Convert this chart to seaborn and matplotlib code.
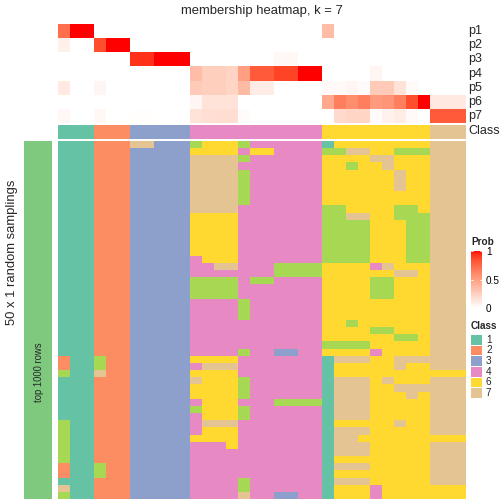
import numpy as np
import pandas as pd
import matplotlib
matplotlib.use("Agg")
import matplotlib.pyplot as plt
import seaborn as sns
from matplotlib.colors import ListedColormap
from matplotlib.patches import Rectangle
from matplotlib.lines import Line2D

sns.set_theme(style="white")
plt.rcParams['font.family'] = ['Liberation Sans', 'DejaVu Sans']

# ---------------- data ----------------
prob_labels = ["p1", "p2", "p3", "p4", "p5", "p6", "p7"]
p1 = [0.72, 1, 1, 0, 0, 0, 0, 0, 0, 0, 0, 0, 0, 0, 0, 0, 0, 0, 0, 0, 0, 0,
      0.35, 0, 0, 0, 0, 0, 0, 0, 0, 0, 0, 0]
p2 = [0.08, 0, 0, 0.85, 1, 1, 0, 0, 0, 0, 0, 0, 0, 0, 0, 0, 0, 0, 0, 0, 0, 0,
      0, 0, 0, 0, 0, 0, 0, 0, 0, 0, 0, 0]
p3 = [0, 0, 0, 0, 0, 0, 0.93, 0.93, 1, 1, 1, 0, 0, 0, 0, 0, 0, 0, 0.04, 0.04, 0, 0,
      0, 0, 0, 0, 0, 0, 0, 0, 0, 0, 0, 0]
p4 = [0, 0, 0, 0, 0, 0, 0, 0, 0, 0, 0, 0.35, 0.25, 0.25, 0.23, 0.5, 0.8, 0.8, 0.88, 0.88, 1, 1,
      0, 0, 0, 0, 0.05, 0, 0, 0, 0, 0, 0, 0]
p5 = [0.12, 0, 0, 0.05, 0, 0, 0, 0, 0, 0, 0, 0.28, 0.25, 0.25, 0.22, 0.36, 0.1, 0.1, 0, 0, 0, 0,
      0.03, 0.03, 0.05, 0.02, 0.28, 0.28, 0.15, 0.03, 0, 0, 0, 0]
p6 = [0, 0, 0, 0, 0, 0, 0, 0, 0, 0, 0, 0.05, 0.15, 0.15, 0.15, 0, 0, 0, 0, 0, 0, 0,
      0.45, 0.65, 0.58, 0.65, 0.52, 0.55, 0.65, 0.85, 1.0, 0.12, 0.12, 0.12]
p7 = [0.04, 0, 0, 0.04, 0, 0, 0.01, 0.01, 0, 0, 0, 0.15, 0.17, 0.18, 0.18, 0.02, 0, 0, 0, 0, 0, 0,
      0, 0.2, 0.22, 0.22, 0.02, 0.07, 0.1, 0.03, 0, 0.8, 0.8, 0.8]

column_class = [1, 1, 1, 2, 2, 2, 3, 3, 3, 3, 3, 4, 4, 4, 4, 4, 4, 4, 4, 4, 4, 4,
                6, 6, 6, 6, 6, 6, 6, 6, 6, 7, 7, 7]

membership = [
    "111 222 77333 56665444444 166666666 777",
    "111 222 33333 66664664444 557766555 777",
    "111 222 33333 77775444444 666677666 777",
    "111 222 33333 77774444444 665667666 777",
    "111 222 33333 77775444444 666666766 777",
    "111 222 33333 77775444444 666666766 777",
    "111 222 33333 77775444444 666666766 777",
    "111 222 33333 77775444444 666666666 777",
    "111 222 33333 77775444444 666666666 777",
    "111 222 33333 77774444444 556666556 777",
    "111 222 33333 66664444444 557766555 777",
    "111 222 33333 66664444444 555566655 777",
    "111 222 33333 66664444444 555566655 777",
    "111 222 33333 66664444444 555566655 777",
    "111 222 33333 66664444444 555566655 777",
    "111 222 33333 66664444444 555566655 777",
    "111 222 33333 46664444444 555566655 777",
    "111 222 33333 44774445555 666647666 777",
    "111 222 33333 44444445555 666666776 777",
    "111 222 33333 55554554444 666655666 777",
    "111 222 33333 55554444444 666655666 777",
    "111 222 33333 55554444444 666655666 777",
    "111 222 33333 44445444444 666666666 777",
    "111 222 33333 44445444444 666666666 777",
    "111 222 33333 44445444444 666666666 777",
    "111 222 33333 44444444444 665666666 777",
    "111 222 33333 44444444444 666655666 777",
    "111 222 33333 44444444444 666666556 777",
    "111 222 33333 44444444444 555566666 777",
    "111 222 33333 44445443344 666646666 777",
    "211 522 33333 66664444444 177766777 777",
    "211 522 33333 47774444444 166666766 777",
    "511 722 33333 66664444444 166666666 666",
    "111 222 33333 76665444444 177767666 777",
    "111 222 33333 66665444444 177766777 777",
    "111 222 33333 66665444444 177766676 777",
    "111 222 33333 46664445555 177766666 777",
    "111 222 33333 56665444444 177766666 777",
    "111 222 33333 46665444444 177766666 777",
    "511 222 33333 47774444444 166666766 777",
    "511 222 33333 46664444444 177766666 777",
    "511 222 33333 66664444444 177666666 666",
    "511 222 33333 44464444444 177766666 777",
    "511 222 33333 44444444444 177766666 777",
    "511 222 33333 44444444444 166666666 777",
    "211 522 33333 44444444444 177766666 777",
    "211 522 33333 44444444444 166666666 777",
    "111 222 33333 44445444444 177766666 777",
    "711 222 33333 44445444444 166646666 666",
    "511 222 33333 44447443344 166646666 666",
]

class_levels = [1, 2, 3, 4, 5, 6, 7]
class_colors = ["#66C2A5", "#FC8D62", "#8DA0CB", "#E78AC3", "#A6D854", "#FFD92F", "#E5C494"]
legend_classes = [1, 2, 3, 4, 6, 7]
prob_ticks = [0, 0.5, 1]
title = "membership heatmap, k = 7"
row_title = "50 x 1 random samplings"
block_label = "top 1000 rows"
block_color = "#7FC97F"

# ---------------- colour map (white -> red in LAB) ----------------
def lab_to_rgb(L, a, b):
    fy = (L + 16) / 116.0
    fx = fy + a / 500.0
    fz = fy - b / 200.0
    d = 6 / 29.0
    finv = lambda t: np.where(t > d, t ** 3, 3 * d * d * (t - 4 / 29.0))
    X, Y, Z = 0.95047 * finv(fx), finv(fy), 1.08883 * finv(fz)
    M = np.array([[3.2406, -1.5372, -0.4986], [-0.9689, 1.8758, 0.0415], [0.0557, -0.2040, 1.0570]])
    lin = M @ np.vstack([X, Y, Z])
    lin = np.clip(lin, 0, 1)
    srgb = np.where(lin <= 0.0031308, 12.92 * lin, 1.055 * lin ** (1 / 2.4) - 0.055)
    return np.clip(srgb.T, 0, 1)

t = np.linspace(0, 1, 256)
L = 100 + (53.24 - 100) * t
A = 0 + 80.09 * t
B = 0 + 67.20 * t
prob_cmap = ListedColormap(lab_to_rgb(L, A, B))

# ---------------- figure ----------------
W = H = 504
fig = plt.figure(figsize=(7, 7), dpi=72)

def ax_px(x0, y0, x1, y1):
    return fig.add_axes([x0 / W, 1 - y1 / H, (x1 - x0) / W, (y1 - y0) / H])

def fx(x):
    return x / W

def fy(y):
    return 1 - y / H

HX0, HX1 = 58, 466

prob_df = pd.DataFrame([p1, p2, p3, p4, p5, p6, p7], index=prob_labels)
ax_prob = ax_px(HX0, 24, HX1, 123)
cax = ax_px(471, 251, 482, 308)
sns.heatmap(prob_df, ax=ax_prob, cmap=prob_cmap, vmin=0, vmax=1, cbar=True, cbar_ax=cax,
            xticklabels=False, yticklabels=False)
ax_prob.set_xlabel(""); ax_prob.set_ylabel("")

cbar = ax_prob.collections[0].colorbar
cbar.outline.set_visible(False)
cbar.set_ticks(prob_ticks)
cbar.set_ticklabels([f"{v:g}" for v in prob_ticks])
cax.tick_params(length=0, labelsize=10, pad=4, colors="black")
for v in prob_ticks:
    cax.add_line(Line2D([0, 0.2], [v, v], color="white", lw=0.8, transform=cax.get_yaxis_transform()))
    cax.add_line(Line2D([0.8, 1.0], [v, v], color="white", lw=0.8, transform=cax.get_yaxis_transform()))

cls_cmap = ListedColormap(class_colors)
class_df = pd.DataFrame([column_class])
ax_cls = ax_px(HX0, 124.5, HX1, 138.5)
sns.heatmap(class_df, ax=ax_cls, cmap=cls_cmap, vmin=0.5, vmax=7.5, cbar=False,
            xticklabels=False, yticklabels=False)
ax_cls.set_xlabel(""); ax_cls.set_ylabel("")

mem = np.array([[int(c) for c in r.replace(" ", "")] for r in membership])
mem_df = pd.DataFrame(mem)
ax_main = ax_px(HX0, 141, HX1, 499)
sns.heatmap(mem_df, ax=ax_main, cmap=cls_cmap, vmin=0.5, vmax=7.5, cbar=False,
            xticklabels=False, yticklabels=False)
ax_main.set_xlabel(""); ax_main.set_ylabel("")

ax_left = ax_px(24, 141, 52, 499)
sns.heatmap(pd.DataFrame(np.ones((len(membership), 1))), ax=ax_left,
            cmap=ListedColormap([block_color]), cbar=False, xticklabels=False, yticklabels=False)
ax_left.set_xlabel(""); ax_left.set_ylabel("")

# texts
fig.text(fx((HX0 + HX1) / 2), fy(11), title, ha="center", va="center", fontsize=13)
row_h = 99 / 7
for i, lab in enumerate(prob_labels):
    fig.text(fx(468), fy(24 + row_h * (i + 0.5)), lab, ha="left", va="center", fontsize=12.5)
fig.text(fx(468), fy(131.5), "Class", ha="left", va="center", fontsize=12.5)
fig.text(fx(12), fy(252), row_title, ha="center", va="center", rotation=90, fontsize=13)
fig.text(fx(38.5), fy(372), block_label, ha="center", va="center", rotation=90, fontsize=9.5)

# legends
fig.text(fx(471), fy(242), "Prob", ha="left", va="center", fontsize=10, fontweight="bold")
fig.text(fx(471), fy(326), "Class", ha="left", va="center", fontsize=10, fontweight="bold")
for i, c in enumerate(legend_classes):
    y0 = 335 + 10.67 * i
    fig.patches.append(Rectangle((fx(471), fy(y0 + 9.6)), 11 / W, 9.6 / H,
                                 transform=fig.transFigure, facecolor=class_colors[c - 1],
                                 edgecolor="none"))
    fig.text(fx(486), fy(y0 + 4.8), str(c), ha="left", va="center", fontsize=10)

fig.savefig("out.png", dpi=72)
